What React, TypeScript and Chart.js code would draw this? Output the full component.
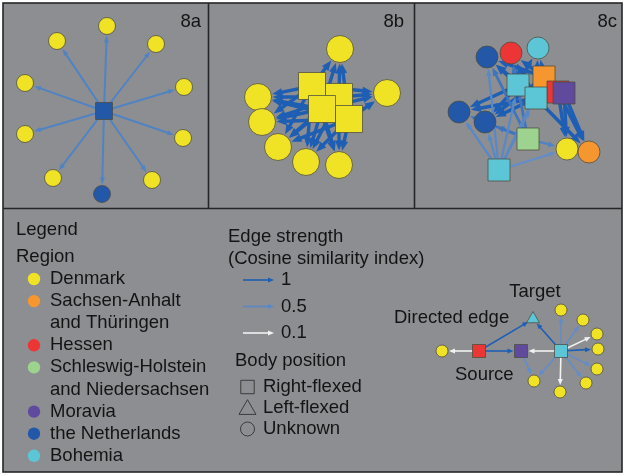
import React, { useEffect, useRef } from 'react';
import { Chart, registerables } from 'chart.js';
Chart.register(...registerables);

// ---------- data ----------
const REGION_NAMES = ['Denmark', 'Sachsen-Anhalt and Thüringen', 'Hessen', 'Schleswig-Holstein and Niedersachsen', 'Moravia', 'the Netherlands', 'Bohemia'];
const REGION_LINES = [['Denmark'], ['Sachsen-Anhalt', 'and Thüringen'], ['Hessen'], ['Schleswig-Holstein', 'and Niedersachsen'], ['Moravia'], ['the Netherlands'], ['Bohemia']];
const BODY_POSITIONS = ['Right-flexed', 'Left-flexed', 'Unknown'];
const STRENGTH_VALUES = [1, 0.5, 0.1];
const STRENGTH_LABELS = ['1', '0.5', '0.1'];
const PANEL_LABELS = ['8a', '8b', '8c'];

// Panel 8a nodes (index 0 = hub)
const aX = [104, 107, 57, 156, 25, 184, 25, 183, 53, 152, 102];
const aY = [111, 26, 41, 44, 83, 87, 134, 138, 178, 180, 194];
const aRegion = [5, 0, 0, 0, 0, 0, 0, 0, 0, 0, 5];
const aShape = ['s', 'c', 'c', 'c', 'c', 'c', 'c', 'c', 'c', 'c', 'c'];
const aEdges = [[0, 1, 0.55], [0, 2, 0.55], [0, 3, 0.55], [0, 4, 0.55], [0, 5, 0.55], [0, 6, 0.55], [0, 7, 0.55], [0, 8, 0.55], [0, 9, 0.55], [0, 10, 0.55]];

// Panel 8b nodes
const bX = [340, 387, 258, 262, 278, 306, 339, 312, 339, 322, 349];
const bY = [49, 93, 97, 122, 147, 162, 165, 86, 97, 109, 119];
const bRegion = [0, 0, 0, 0, 0, 0, 0, 0, 0, 0, 0];
const bShape = ['c', 'c', 'c', 'c', 'c', 'c', 'c', 's', 's', 's', 's'];
const bEdges: number[][] = [];
for (const s of [7, 8, 9, 10]) for (const t of [0, 1, 2, 3, 4, 5, 6]) bEdges.push([s, t, 1]);

// Panel 8c nodes
const cX = [487, 511, 538, 544, 518, 558, 564, 536, 459, 485, 528, 567, 589, 499];
const cY = [57, 53, 48, 77, 85, 92, 93, 98, 112, 122, 139, 149, 152, 170];
const cRegion = [5, 2, 6, 1, 6, 2, 4, 6, 5, 5, 3, 0, 1, 6];
const cShape = ['c', 'c', 'c', 's', 's', 's', 's', 's', 'c', 'c', 's', 'c', 'c', 's'];
const cEdges = [
  [4, 0, 1], [4, 8, 1], [4, 9, 1], [7, 0, 1], [7, 8, 1], [7, 9, 1], [3, 0, 1], [3, 1, 1], [3, 2, 1],
  [4, 1, 1], [4, 2, 1], [7, 1, 1], [7, 2, 1], [5, 12, 1], [6, 12, 1], [6, 11, 1], [5, 11, 1], [7, 12, 1], [3, 9, 1],
  [10, 0, 0.7], [10, 8, 0.7], [10, 9, 0.7], [10, 1, 0.7],
  [13, 0, 0.5], [13, 8, 0.5], [13, 9, 0.5], [13, 4, 0.5], [13, 7, 0.5], [13, 3, 0.5], [10, 11, 0.55], [13, 11, 0.45],
];

// Legend example network
const eX = [561, 442, 479, 521, 533, 561, 583, 597, 598, 597, 586, 560, 534];
const eY = [351, 351, 351, 351, 319, 310, 320, 334, 349, 369, 383, 392, 381];
const eRegion = [6, 0, 2, 4, 6, 0, 0, 0, 0, 0, 0, 0, 0];
const eShape = ['s', 'c', 's', 's', 't', 'c', 'c', 'c', 'c', 'c', 'c', 'c', 'c'];
const eEdges = [
  [2, 1, 0.1], [2, 3, 1], [2, 4, 1], [0, 4, 1], [0, 3, 0.1],
  [0, 5, 0.45], [0, 6, 0.45], [0, 7, 0.1], [0, 8, 1], [0, 9, 0.45], [0, 10, 0.45], [0, 11, 0.1], [0, 12, 0.45], [3, 12, 0.45],
];

// ---------- styles ----------
const REGION_COLORS = ['#f0e326', '#f5962f', '#ec3535', '#9dd28f', '#5f4a9e', '#2358a9', '#5cc5d6'];
const BG = '#8d8e92';
const FONT = '18.5px "Liberation Sans", Arial, sans-serif';
const TEXT = '#141414';

type PanelStyle = { circleR: number; squareHalf: number; triR: number; edgeW: (w: number) => number; arrowL: (w: number) => number; arrowW: (w: number) => number };
const panels: { x: number[]; y: number[]; region: number[]; shape: string[]; edges: number[][]; st: PanelStyle }[] = [
  { x: aX, y: aY, region: aRegion, shape: aShape, edges: aEdges, st: { circleR: 8.5, squareHalf: 8.5, triR: 8, edgeW: () => 2, arrowL: () => 7, arrowW: () => 5 } },
  { x: bX, y: bY, region: bRegion, shape: bShape, edges: bEdges, st: { circleR: 13.5, squareHalf: 13.5, triR: 12, edgeW: () => 3.4, arrowL: () => 10, arrowW: () => 8 } },
  { x: cX, y: cY, region: cRegion, shape: cShape, edges: cEdges, st: { circleR: 11, squareHalf: 11, triR: 10, edgeW: (w) => 1 + 2.5 * w, arrowL: (w) => 4 + 6 * w, arrowW: (w) => 3 + 5 * w } },
  { x: eX, y: eY, region: eRegion, shape: eShape, edges: eEdges, st: { circleR: 6, squareHalf: 6.5, triR: 7.5, edgeW: () => 1.6, arrowL: () => 6, arrowW: () => 5 } },
];

function edgeColor(w: number) {
  const t = Math.pow(Math.max(0, (w - 0.1) / 0.9), 0.4);
  const r = Math.round(242 + (30 - 242) * t);
  const g = Math.round(242 + (95 - 242) * t);
  const b = Math.round(242 + (180 - 242) * t);
  return `rgb(${r},${g},${b})`;
}

function nodeRadius(shape: string, st: PanelStyle) {
  if (shape === 's') return st.squareHalf / Math.SQRT1_2;
  if (shape === 't') return st.triR;
  return st.circleR;
}

function drawArrow(ctx: CanvasRenderingContext2D, x1: number, y1: number, x2: number, y2: number, endDist: number, color: string, lw: number, al: number, aw: number) {
  const dx = x2 - x1, dy = y2 - y1;
  const len = Math.hypot(dx, dy) || 1;
  const ux = dx / len, uy = dy / len;
  const ex = x2 - ux * endDist, ey = y2 - uy * endDist;
  const bx = ex - ux * al, by = ey - uy * al;
  ctx.strokeStyle = color;
  ctx.lineWidth = lw;
  ctx.lineCap = 'butt';
  ctx.beginPath();
  ctx.moveTo(x1, y1);
  ctx.lineTo(bx + ux, by + uy);
  ctx.stroke();
  ctx.fillStyle = color;
  ctx.beginPath();
  ctx.moveTo(ex, ey);
  ctx.lineTo(bx - (uy * aw) / 2, by + (ux * aw) / 2);
  ctx.lineTo(bx + (uy * aw) / 2, by - (ux * aw) / 2);
  ctx.closePath();
  ctx.fill();
}

const networkPlugin = {
  id: 'network',
  beforeDraw(chart: any) {
    const ctx = chart.ctx as CanvasRenderingContext2D;
    ctx.save();
    ctx.fillStyle = '#ffffff';
    ctx.fillRect(0, 0, chart.width, chart.height);
    const xs = chart.scales.x, ys = chart.scales.y;
    const x0 = xs.getPixelForValue(3), x1 = xs.getPixelForValue(622);
    const y0 = ys.getPixelForValue(3), y1 = ys.getPixelForValue(472);
    ctx.fillStyle = BG;
    ctx.fillRect(x0, y0, x1 - x0, y1 - y0);
    ctx.restore();
  },
  beforeDatasetsDraw(chart: any) {
    const ctx = chart.ctx as CanvasRenderingContext2D;
    const xs = chart.scales.x, ys = chart.scales.y;
    ctx.save();
    for (const p of panels) {
      for (const [s, t, w] of p.edges) {
        const sx = xs.getPixelForValue(p.x[s]), sy = ys.getPixelForValue(p.y[s]);
        const tx = xs.getPixelForValue(p.x[t]), ty = ys.getPixelForValue(p.y[t]);
        const dx = tx - sx, dy = ty - sy;
        const len = Math.hypot(dx, dy) || 1;
        let d: number;
        if (p.shape[t] === 's') d = p.st.squareHalf / Math.max(Math.abs(dx / len), Math.abs(dy / len));
        else if (p.shape[t] === 't') d = p.st.triR * 0.6;
        else d = p.st.circleR;
        d += 1;
        drawArrow(ctx, sx, sy, tx, ty, d, edgeColor(w), p.st.edgeW(w), p.st.arrowL(w), p.st.arrowW(w));
      }
    }
    // edge strength legend arrows
    STRENGTH_VALUES.forEach((v, i) => {
      const y = ys.getPixelForValue(280 + i * 26.5);
      drawArrow(ctx, xs.getPixelForValue(243), y, xs.getPixelForValue(274), y, 0, edgeColor(v), 1.6, 6, 5);
    });
    ctx.restore();
  },
  afterDraw(chart: any) {
    const ctx = chart.ctx as CanvasRenderingContext2D;
    const xs = chart.scales.x, ys = chart.scales.y;
    const X = (v: number) => xs.getPixelForValue(v);
    const Y = (v: number) => ys.getPixelForValue(v);
    ctx.save();
    // frames
    ctx.strokeStyle = '#262626';
    ctx.lineWidth = 1.6;
    ctx.strokeRect(X(3), Y(3), X(622) - X(3), Y(472) - Y(3));
    ctx.beginPath();
    ctx.moveTo(X(3), Y(208.5)); ctx.lineTo(X(622), Y(208.5));
    ctx.moveTo(X(208.5), Y(3)); ctx.lineTo(X(208.5), Y(208.5));
    ctx.moveTo(X(414.5), Y(3)); ctx.lineTo(X(414.5), Y(208.5));
    ctx.stroke();
    // text
    ctx.fillStyle = TEXT;
    ctx.font = FONT;
    ctx.textBaseline = 'middle';
    ctx.textAlign = 'right';
    PANEL_LABELS.forEach((l, i) => ctx.fillText(l, X([201, 404, 617][i]), Y(22)));
    ctx.textAlign = 'left';
    ctx.fillText('Legend', X(16), Y(230));
    ctx.fillText('Region', X(16), Y(257));
    let line = 0;
    REGION_LINES.forEach((ls) => {
      ls.forEach((t) => {
        ctx.fillText(t, X(50), Y(279 + line * 22.1));
        line++;
      });
    });
    ctx.fillText('Edge strength', X(228), Y(237));
    ctx.fillText('(Cosine similarity index)', X(228), Y(259));
    STRENGTH_LABELS.forEach((l, i) => ctx.fillText(l, X(281), Y(280 + i * 26.5)));
    ctx.fillText('Body position', X(235), Y(361));
    BODY_POSITIONS.forEach((l, i) => ctx.fillText(l, X(263), Y(387 + i * 21)));
    ctx.textAlign = 'center';
    ctx.fillText('Target', X(535), Y(292));
    ctx.textAlign = 'left';
    ctx.fillText('Directed edge', X(394), Y(318));
    ctx.fillText('Source', X(455), Y(375));
    ctx.restore();
  },
};

// legend dot rows (line index of each region's first line)
const regionRowIndex: number[] = [];
{
  let li = 0;
  REGION_LINES.forEach((ls) => { regionRowIndex.push(li); li += ls.length; });
}

export default function App() {
  const ref = useRef<HTMLCanvasElement>(null);
  useEffect(() => {
    if (!ref.current) return;
    const styleOf = (s: string) => (s === 's' ? 'rect' : s === 't' ? 'triangle' : 'circle');
    const nodeSets = panels.map((p, pi) => ({
      label: 'nodes' + pi,
      data: p.x.map((x, i) => ({ x, y: p.y[i] })),
      pointStyle: p.shape.map(styleOf),
      pointRadius: p.shape.map((s) => nodeRadius(s, p.st)),
      pointBackgroundColor: p.region.map((r) => REGION_COLORS[r]),
      pointBorderColor: 'rgba(75,75,60,0.75)',
      pointBorderWidth: 1,
      showLine: false,
      clip: false,
    }));
    const regionDots = {
      label: 'regionDots',
      data: REGION_NAMES.map((_, i) => ({ x: 34, y: 279 + regionRowIndex[i] * 22.1 })),
      pointStyle: 'circle',
      pointRadius: 6.2,
      pointBackgroundColor: REGION_COLORS,
      pointBorderColor: 'rgba(0,0,0,0)',
      pointBorderWidth: 0,
      showLine: false,
      clip: false,
    };
    const bodyDots = {
      label: 'body',
      data: BODY_POSITIONS.map((_, i) => ({ x: 247.5, y: [387, 409.5, 429][i] })),
      pointStyle: ['rect', 'triangle', 'circle'],
      pointRadius: [9.5, 9.8, 7],
      pointBackgroundColor: 'rgba(0,0,0,0)',
      pointBorderColor: '#3c3c3c',
      pointBorderWidth: 1,
      showLine: false,
      clip: false,
    };
    const chart = new Chart(ref.current, {
      type: 'scatter',
      data: { datasets: [...nodeSets, regionDots, bodyDots] as any },
      options: {
        animation: false,
        responsive: false,
        devicePixelRatio: 1,
        layout: { padding: 0, autoPadding: false },
        events: [],
        plugins: { legend: { display: false }, tooltip: { enabled: false } },
        scales: {
          x: { type: 'linear', min: 0, max: 625, display: false },
          y: { type: 'linear', min: 0, max: 476, reverse: true, display: false },
        },
      } as any,
      plugins: [networkPlugin],
    });
    return () => chart.destroy();
  }, []);
  return (
    <div style={{ position: 'absolute', left: 0, top: 0, width: 625, height: 476 }}>
      <canvas ref={ref} width={625} height={476} style={{ display: 'block' }} />
    </div>
  );
}
